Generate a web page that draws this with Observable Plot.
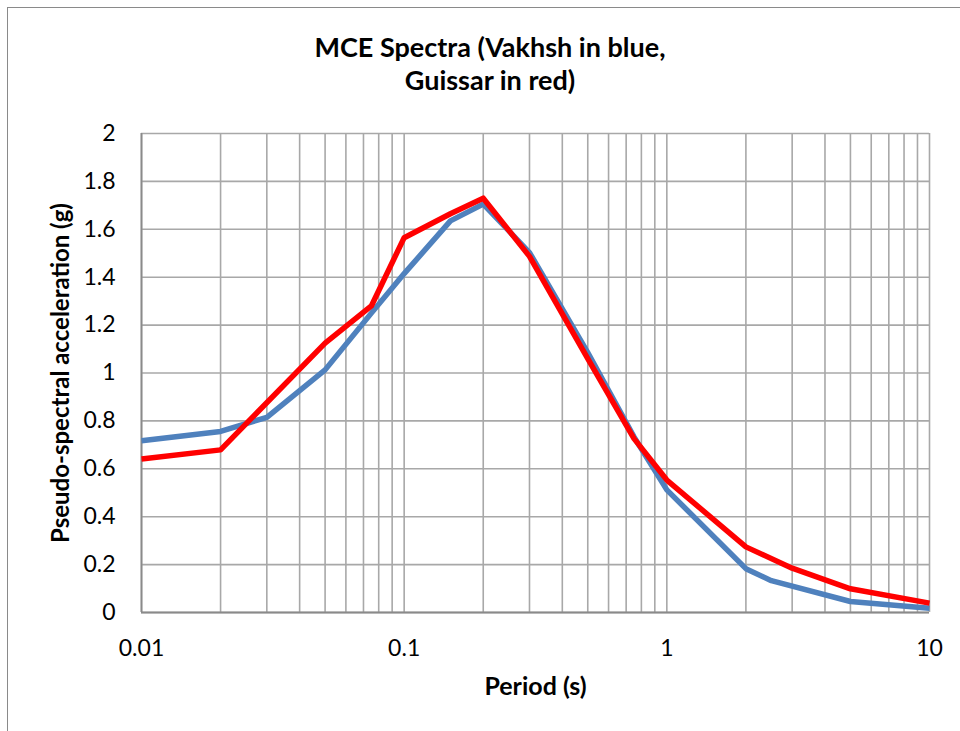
<!DOCTYPE html>
<html>
<head>
<meta charset="utf-8">
<script src="https://cdn.jsdelivr.net/npm/d3@7"></script>
<script src="https://cdn.jsdelivr.net/npm/@observablehq/plot@0.6"></script>
<style>
  body { margin: 0; background: #fff; }
  #wrap { position: relative; width: 960px; height: 731px; overflow: hidden; background: #fff; font-family: Lato, sans-serif; }
  #frame { position: absolute; left: 7px; top: 7px; width: 2000px; height: 2000px; border-left: 1.5px solid #8a8a8a; border-top: 1.5px solid #8a8a8a; }
  #title { position: absolute; left: 10px; top: 30px; width: 960px; text-align: center; font: bold 27px Lato, sans-serif; line-height: 33px; color: #000; z-index: 2; }
  #chart { position: absolute; left: 0; top: 0; }
</style>
</head>
<body>
<div id="wrap">
  <div id="frame"></div>
  <div id="chart"></div>
  <div id="title">MCE Spectra (Vakhsh in blue,<br>Guissar in red)</div>
</div>
<script>
// Vakhsh (blue)
const vakhshPeriod = [0.01, 0.02, 0.03, 0.05, 0.075, 0.1, 0.15, 0.2, 0.3, 0.5, 0.75, 1, 2, 2.5, 5, 10];
const vakhshSa     = [0.717, 0.756, 0.815, 1.013, 1.25, 1.415, 1.635, 1.705, 1.503, 1.085, 0.733, 0.512, 0.183, 0.133, 0.046, 0.018];
// Guissar (red)
const guissarPeriod = [0.01, 0.02, 0.05, 0.075, 0.1, 0.15, 0.2, 0.3, 0.5, 0.75, 1, 2, 3, 5, 10];
const guissarSa     = [0.641, 0.679, 1.125, 1.28, 1.565, 1.665, 1.73, 1.487, 1.06, 0.726, 0.553, 0.274, 0.185, 0.099, 0.039];

const xTickLabels = [0.01, 0.1, 1, 10];
const yTickLabels = [0, 0.2, 0.4, 0.6, 0.8, 1, 1.2, 1.4, 1.6, 1.8, 2];
const decades = [0.01, 0.1, 1];
const multipliers = [1, 2, 3, 4, 5, 6, 7, 8, 9];

const xGrid = decades.flatMap(d => multipliers.map(m => +(d * m).toPrecision(3))).concat([10]);

const vakhsh = vakhshPeriod.map((p, i) => ({period: p, sa: vakhshSa[i]}));
const guissar = guissarPeriod.map((p, i) => ({period: p, sa: guissarSa[i]}));

const chart = Plot.plot({
  width: 960,
  height: 731,
  marginLeft: 141,
  marginRight: 31,
  marginTop: 133,
  marginBottom: 119,
  style: { fontFamily: "Lato, sans-serif", fontSize: "23px", color: "#000", background: "transparent" },
  x: { type: "log", domain: [0.01, 10] },
  y: { domain: [0, 2] },
  marks: [
    Plot.ruleX(xGrid, { stroke: "#a8a8a8", strokeWidth: 1.6 }),
    Plot.ruleY(yTickLabels, { stroke: "#a8a8a8", strokeWidth: 1.6 }),
    Plot.ruleY([0], { stroke: "#8a8a8a", strokeWidth: 1.8 }),
    Plot.ruleX([0.01], { stroke: "#8a8a8a", strokeWidth: 1.8 }),
    Plot.axisX({ ticks: xTickLabels, tickFormat: d => String(d), tickSize: 0, tickPadding: 27, label: null, fontSize: 23 }),
    Plot.axisY({ ticks: yTickLabels, tickFormat: d => String(d), tickSize: 0, tickPadding: 26, label: null, fontSize: 23 }),
    Plot.line(vakhsh, { x: "period", y: "sa", stroke: "#4f81bd", strokeWidth: 5.5, strokeLinejoin: "round", strokeLinecap: "butt" }),
    Plot.line(guissar, { x: "period", y: "sa", stroke: "#ff0000", strokeWidth: 5.5, strokeLinejoin: "round", strokeLinecap: "butt" }),
    Plot.text(["Period (s)"], { frameAnchor: "bottom", dy: 74, fontWeight: "bold", fontSize: 25, lineAnchor: "middle", fill: "#000" }),
    Plot.text(["Pseudo-spectral acceleration (g)"], { frameAnchor: "left", dx: -80, rotate: -90, textAnchor: "middle", fontWeight: "bold", fontSize: 24, lineAnchor: "middle", fill: "#000" })
  ]
});
document.getElementById("chart").appendChild(chart);
</script>
</body>
</html>
